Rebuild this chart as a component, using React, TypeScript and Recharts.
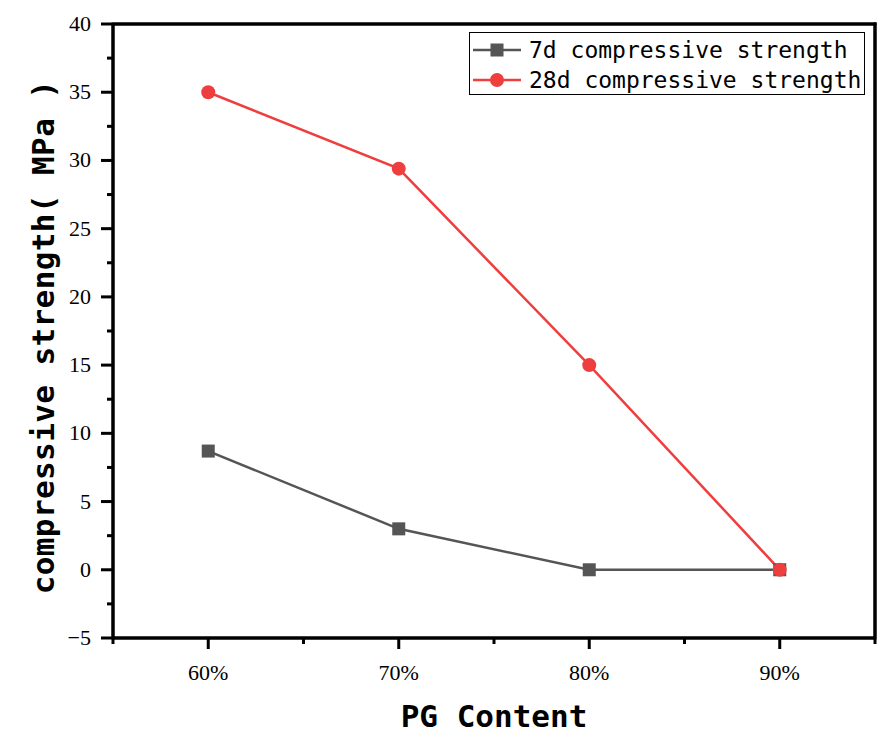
import React from "react";
import {
  LineChart,
  Line,
  XAxis,
  YAxis,
  Legend,
  ReferenceArea,
} from "recharts";

const contents = [60, 70, 80, 90];
const strength7d = [8.7, 3.0, 0, 0];
const strength28d = [35, 29.4, 15, 0];
const xTicks = [55, 60, 65, 70, 75, 80, 85, 90, 95];
const yTicks = [-5, -2.5, 0, 2.5, 5, 7.5, 10, 12.5, 15, 17.5, 20, 22.5, 25, 27.5, 30, 32.5, 35, 37.5, 40];

const data = contents.map((c, i) => ({
  pg: c,
  d7: strength7d[i],
  d28: strength28d[i],
}));

const W = 896;
const H = 749;
const MARGIN = { top: 24, right: 21, left: 0, bottom: 0 };
const Y_AXIS_W = 113;
const X_AXIS_H = 111;

const GRAY = "#555555";
const RED = "#ef3e3e";
const MONO = "'DejaVu Sans Mono', monospace";
const SERIF = "'Liberation Serif', 'Times New Roman', serif";

function XTick(props: any) {
  const { x, y, payload } = props;
  const major = payload.value % 10 === 0;
  const len = major ? 11 : 6;
  return (
    <g>
      <rect x={x - 1.5} y={y} width={3} height={len} fill="#000" />
      {major && (
        <text x={x} y={y + 42} textAnchor="middle" fontFamily={SERIF} fontSize={22} fill="#000">
          {payload.value}%
        </text>
      )}
    </g>
  );
}

function YTick(props: any) {
  const { x, y, payload } = props;
  const major = payload.value % 5 === 0;
  const len = major ? 12 : 6;
  return (
    <g>
      <rect x={x - len} y={y - 1.5} width={len} height={3} fill="#000" />
      {major && (
        <text x={x - 22} y={y + 7} textAnchor="end" fontFamily={SERIF} fontSize={22} fill="#000">
          {payload.value < 0 ? "\u2212" + Math.abs(payload.value) : payload.value}
        </text>
      )}
    </g>
  );
}

function SquareDot(props: any) {
  const { cx, cy } = props;
  return <rect x={cx - 6.5} y={cy - 6.5} width={13} height={13} fill={GRAY} />;
}

function CircleDot(props: any) {
  const { cx, cy } = props;
  return <circle cx={cx} cy={cy} r={7} fill={RED} />;
}

function LegendBox() {
  const rows = [
    { label: "7d compressive strength", color: GRAY, square: true },
    { label: "28d compressive strength", color: RED, square: false },
  ];
  return (
    <div
      style={{
        border: "1px solid #000",
        background: "#fff",
        width: 396,
        height: 63,
        boxSizing: "border-box",
        paddingTop: 2,
      }}
    >
      {rows.map((r) => (
        <div key={r.label} style={{ display: "flex", alignItems: "center", height: 30 }}>
          <svg width={56} height={30}>
            <line x1={3} x2={51} y1={15} y2={15} stroke={r.color} strokeWidth={2.5} />
            {r.square ? (
              <rect x={20.5} y={8.5} width={13} height={13} fill={r.color} />
            ) : (
              <circle cx={27} cy={15} r={7} fill={r.color} />
            )}
          </svg>
          <span style={{ fontFamily: MONO, fontSize: 23, color: "#000", whiteSpace: "nowrap", marginLeft: 3 }}>
            {r.label}
          </span>
        </div>
      ))}
    </div>
  );
}

function YLabel() {
  const cx = 43;
  const cy = 337;
  return (
    <text
      x={cx}
      y={cy}
      transform={`rotate(-90, ${cx}, ${cy})`}
      textAnchor="middle"
      dominantBaseline="central"
      fontFamily={MONO}
      fontWeight="bold"
      fontSize={31}
      letterSpacing={0.4}
      fill="#000"
    >
      compressive strength( MPa )
    </text>
  );
}

// x-axis title, plus the top and right sides of the plot frame
function XLabel() {
  const left = MARGIN.left + Y_AXIS_W;
  const right = W - MARGIN.right;
  const top = MARGIN.top;
  const bottom = H - MARGIN.bottom - X_AXIS_H;
  return (
    <g>
      <line x1={left} x2={right + 1.5} y1={top} y2={top} stroke="#000" strokeWidth={3} />
      <line x1={right} x2={right} y1={top - 1.5} y2={bottom} stroke="#000" strokeWidth={3} />
      <text
        x={(left + right) / 2}
        y={727}
        textAnchor="middle"
        fontFamily={MONO}
        fontWeight="bold"
        fontSize={31}
        fill="#000"
      >
        PG Content
      </text>
    </g>
  );
}

export default function App() {
  return (
    <div style={{ position: "absolute", left: 0, top: 0, background: "#fff", width: W, height: H }}>
      <LineChart width={W} height={H} data={data} margin={MARGIN}>
        <ReferenceArea
          x1={55}
          x2={95}
          y1={-5}
          y2={40}
          fill="none"
          stroke="#000"
          strokeWidth={3}
          ifOverflow="visible"
        />
        <XAxis
          dataKey="pg"
          type="number"
          domain={[55, 95]}
          ticks={xTicks}
          interval={0}
          height={X_AXIS_H}
          tickSize={0}
          tickMargin={0}
          tick={<XTick />}
          axisLine={{ stroke: "#000", strokeWidth: 3 }}
          label={<XLabel />}
        />
        <YAxis
          type="number"
          domain={[-5, 40]}
          ticks={yTicks}
          interval={0}
          width={Y_AXIS_W}
          tickSize={0}
          tickMargin={0}
          tick={<YTick />}
          axisLine={{ stroke: "#000", strokeWidth: 3 }}
          label={<YLabel />}
        />
        <Legend
          layout="horizontal"
          verticalAlign="middle"
          content={() => <LegendBox />}
          wrapperStyle={{ position: "absolute", left: 469, top: 32, width: 396 }}
        />
        <Line
          dataKey="d7"
          name="7d compressive strength"
          stroke={GRAY}
          strokeWidth={2.5}
          dot={<SquareDot />}
          activeDot={false}
          isAnimationActive={false}
        />
        <Line
          dataKey="d28"
          name="28d compressive strength"
          stroke={RED}
          strokeWidth={2.5}
          dot={<CircleDot />}
          activeDot={false}
          isAnimationActive={false}
        />
      </LineChart>
    </div>
  );
}
